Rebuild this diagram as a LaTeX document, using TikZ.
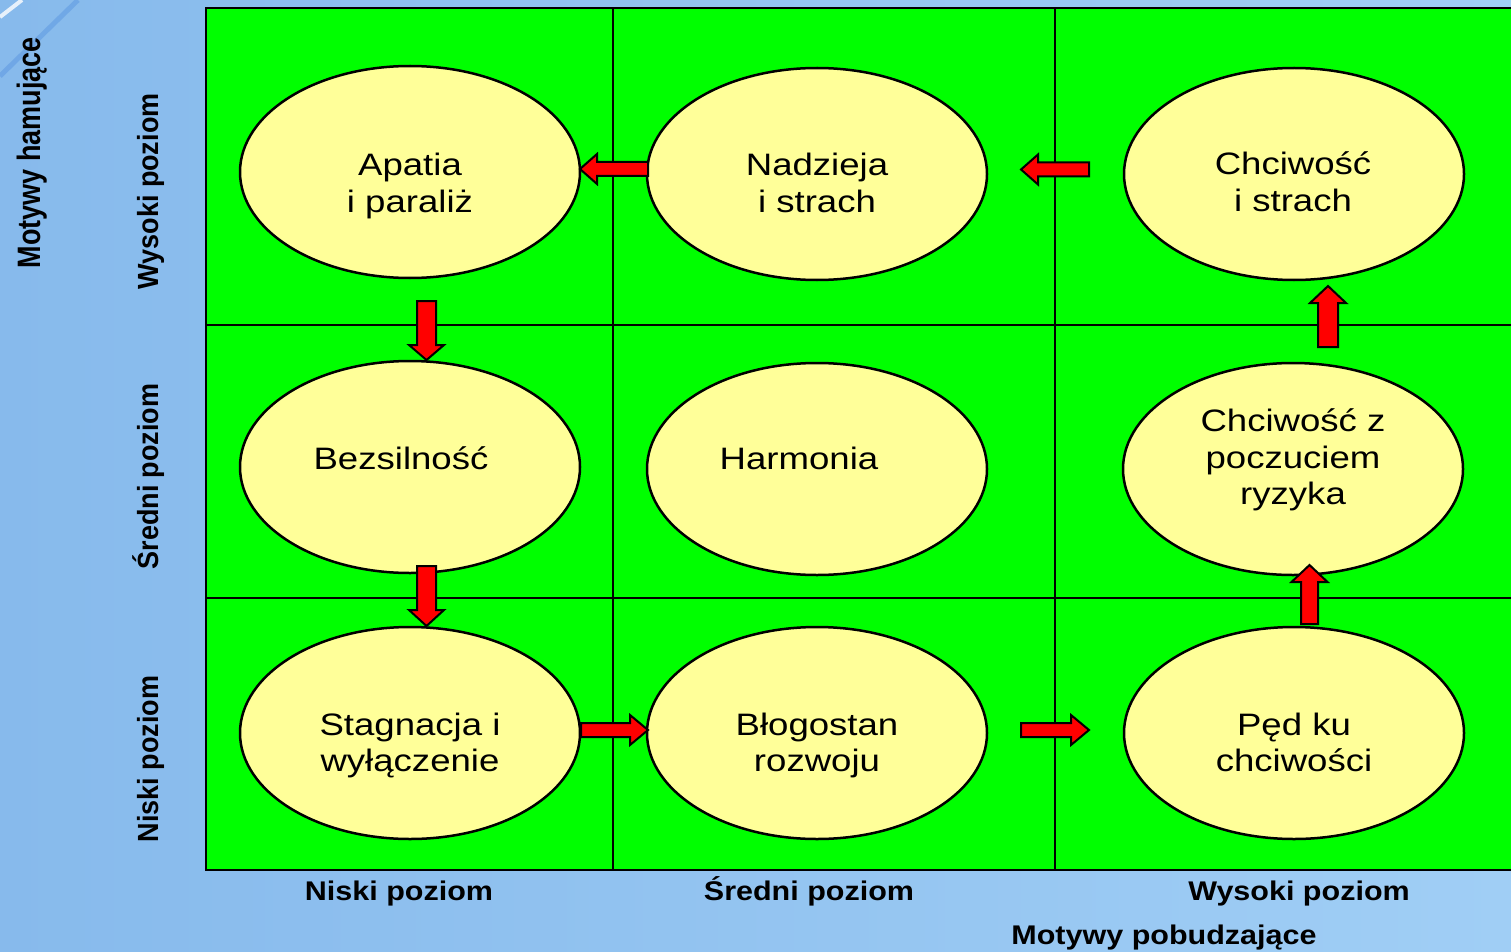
\documentclass[tikz,border=0pt]{standalone}
\usepackage{fontspec}
\setmainfont{Liberation Sans}
\usetikzlibrary{shapes.geometric,calc}
\definecolor{bgl}{RGB}{135,186,236}
\definecolor{bgr}{RGB}{160,206,245}
\definecolor{bgline}{RGB}{90,150,225}
\definecolor{grn}{RGB}{0,255,0}
\definecolor{ylw}{RGB}{255,255,153}
\definecolor{rd}{RGB}{255,0,0}
% block arrow: tail, tip, half shaft, half head, head length
\newcommand\blockarr[5]{%
  \coordinate (hb) at ($(#2)!#5!(#1)$);
  \draw[barrow] ($(#1)!#3!90:(#2)$) -- ($(hb)!#3!90:(#2)$) -- ($(hb)!#4!90:(#2)$) -- (#2)
     -- ($(hb)!#4!-90:(#2)$) -- ($(hb)!#3!-90:(#2)$) -- ($(#1)!#3!-90:(#2)$) -- cycle;}
\newcommand\etext[1]{\scalebox{1.18}[1]{\begin{tabular}{@{}c@{}}#1\end{tabular}}}
\begin{document}
\begin{tikzpicture}[x=1pt,y=-1pt,
  oval/.style={ellipse,draw=black,line width=2.5pt,fill=ylw,minimum width=340pt,minimum height=212pt,inner sep=0pt},
  etxt/.style={anchor=north,inner sep=0pt,font=\fontsize{31}{36.5}\selectfont},
  gridline/.style={line width=2pt,draw=black},
  barrow/.style={fill=rd,draw=black,line width=2pt,line join=miter},
  axlbl/.style={font=\bfseries\fontsize{27}{30}\selectfont,inner sep=0pt,anchor=base,rotate=90},
  botlbl/.style={font=\bfseries\fontsize{27}{30}\selectfont,inner sep=0pt,anchor=base}]
\useasboundingbox (0,0) rectangle (1511,952);
\clip (0,0) rectangle (1511,952);
\shade[left color=bgl,right color=bgr] (0,0) rectangle (1511,952);
\draw[white,line width=4pt,opacity=0.8] (0,17) -- (22,0);
\draw[bgline,line width=5pt,opacity=0.5] (0,76) -- (78,0);
% panel
\fill[grn] (206,8) rectangle (1525,870);
\draw[gridline] (1525,8) -- (206,8) -- (206,870) -- (1525,870);
\draw[gridline] (613,8) -- (613,870);
\draw[gridline] (1055,8) -- (1055,870);
\draw[gridline] (206,325) -- (1525,325);
\draw[gridline] (206,598) -- (1525,598);
% ellipses
\node[oval] (apat) at (410,172) {};
\node[oval] (nadz) at (817,174) {};
\node[oval] (chst) at (1294,174) {};
\node[oval] (bezs) at (410,467) {};
\node[oval] (harm) at (817,469) {};
\node[oval] (chzp) at (1293,469) {};
\node[oval] (stag) at (410,733) {};
\node[oval] (blog) at (817,733) {};
\node[oval] (pedk) at (1294,733) {};
% ellipse texts
\node[etxt] (apatT) at (410,150) {\etext{Apatia\\i paraliż}};
\node[etxt] (nadzT) at (817,150) {\etext{Nadzieja\\i strach}};
\node[etxt] (chstT) at (1293,149) {\etext{Chciwość\\i strach}};
\node[etxt] (bezsT) at (401,444) {\etext{Bezsilność}};
\node[etxt] (harmT) at (799,444) {\etext{Harmonia}};
\node[etxt] (chzpT) at (1293,406) {\etext{Chciwość z\\poczuciem\\ryzyka}};
\node[etxt] (stagT) at (410,709.5) {\etext{Stagnacja i\\wyłączenie}};
\node[etxt] (blogT) at (817,709.5) {\etext{Błogostan\\rozwoju}};
\node[etxt] (pedkT) at (1294,709.5) {\etext{Pęd ku\\chciwości}};
% arrow end points
\coordinate (a1s) at (648,169);   \coordinate (a1e) at (580,169);
\coordinate (a2s) at (1089,169.5);\coordinate (a2e) at (1021,169.5);
\coordinate (a3s) at (426.5,301); \coordinate (a3e) at (426.5,360);
\coordinate (a4s) at (426.5,566); \coordinate (a4e) at (426.5,626);
\coordinate (a5s) at (581,730);   \coordinate (a5e) at (648,730);
\coordinate (a6s) at (1021,730);  \coordinate (a6e) at (1089,730);
\coordinate (a7s) at (1309.5,624);\coordinate (a7e) at (1309.5,565);
\coordinate (a8s) at (1328,347);  \coordinate (a8e) at (1328,286);
\blockarr{a1s}{a1e}{7pt}{15pt}{17pt}
\blockarr{a2s}{a2e}{7pt}{15pt}{17pt}
\blockarr{a3s}{a3e}{9.5pt}{17.5pt}{15pt}
\blockarr{a4s}{a4e}{9.5pt}{17.5pt}{16pt}
\blockarr{a5s}{a5e}{7pt}{15pt}{18pt}
\blockarr{a6s}{a6e}{7pt}{15pt}{18pt}
\blockarr{a7s}{a7e}{8.5pt}{18pt}{17pt}
\blockarr{a8s}{a8e}{10pt}{18pt}{17pt}
% axis labels
\node[axlbl] (mham) at (40,152.5) {\scalebox{1}[1.2]{Motywy hamujące}};
\node[axlbl] (lwys) at (158,191.5) {\scalebox{1}[1.08]{Wysoki poziom}};
\node[axlbl] (lsre) at (158,476.5) {\scalebox{1}[1.08]{Średni poziom}};
\node[axlbl] (lnis) at (158,759) {\scalebox{1}[1.08]{Niski poziom}};
\node[botlbl] (bnis) at (399,900) {\scalebox{1.13}[1]{Niski poziom}};
\node[botlbl] (bsre) at (809,900) {\scalebox{1.13}[1]{Średni poziom}};
\node[botlbl] (bwys) at (1299,900) {\scalebox{1.13}[1]{Wysoki poziom}};
\node[botlbl] (mpob) at (1164,944) {\scalebox{1.13}[1]{Motywy pobudzające}};
\end{tikzpicture}
\end{document}
